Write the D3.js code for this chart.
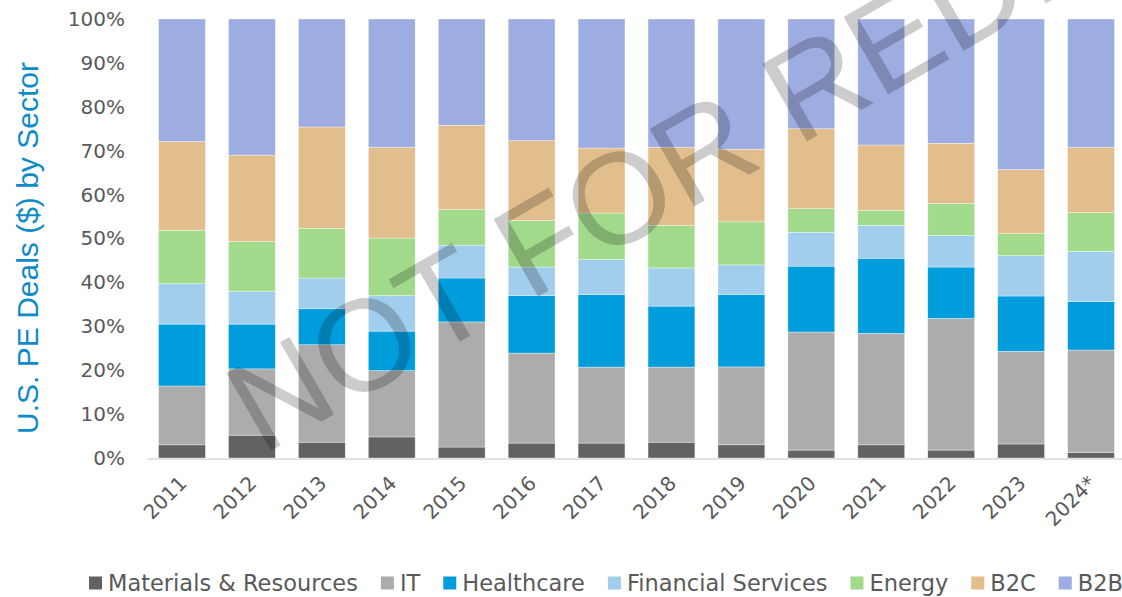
<!DOCTYPE html>
<html>
<head>
<meta charset="utf-8">
<script src="https://cdn.jsdelivr.net/npm/d3@7"></script>
<style>
  body { margin: 0; background: #fff; }
  svg { display: block; }
</style>
</head>
<body>
<div id="chart"></div>
<script>
// years on the x axis
const years = ["2011", "2012", "2013", "2014", "2015", "2016", "2017", "2018", "2019", "2020", "2021", "2022", "2023", "2024*"];

// share of deal value by sector (%)
const materials  = [3.0, 5.2, 3.6, 4.8, 2.5, 3.4, 3.4, 3.6, 3.0, 1.8, 3.0, 1.8, 3.2, 1.3];
const it         = [13.4, 15.1, 22.2, 15.1, 28.5, 20.5, 17.3, 17.1, 17.7, 26.9, 25.4, 30.0, 21.1, 23.3];
const healthcare = [14.1, 10.2, 8.2, 9.0, 10.0, 13.1, 16.5, 13.9, 16.5, 15.0, 17.1, 11.7, 12.6, 11.0];
const financial  = [9.2, 7.5, 7.0, 8.1, 7.5, 6.5, 8.0, 8.7, 6.7, 7.7, 7.5, 7.2, 9.2, 11.5];
const energy     = [12.2, 11.3, 11.3, 13.1, 8.1, 10.6, 10.6, 9.7, 9.8, 5.4, 3.4, 7.3, 5.0, 8.8];
const b2c        = [20.2, 19.7, 23.1, 20.7, 19.2, 18.2, 14.8, 17.8, 16.5, 18.2, 14.9, 13.7, 14.6, 14.9];
const b2b        = [27.9, 31.0, 24.6, 29.2, 24.2, 27.7, 29.4, 29.2, 29.6, 25.0, 28.7, 28.3, 34.3, 29.2];

const sectors = ["Materials & Resources", "IT", "Healthcare", "Financial Services", "Energy", "B2C", "B2B"];
const colors = ["#616263", "#ABACAB", "#009DDC", "#A2CEEE", "#A1DA8A", "#E2BE8C", "#9DACE1"];
const yTicks = [0, 0.1, 0.2, 0.3, 0.4, 0.5, 0.6, 0.7, 0.8, 0.9, 1.0];

const seriesValues = [materials, it, healthcare, financial, energy, b2c, b2b];
const table = years.map((y, i) => {
    const row = {year: y};
    sectors.forEach((s, k) => { row[s] = seriesValues[k][i]; });
    return row;
});

const width = 1122, height = 597;
const margin = {top: 19, right: -4, bottom: 139, left: 147};
const innerWidth = width - margin.left - margin.right;
const innerHeight = height - margin.top - margin.bottom;

const svg = d3.select("#chart")
    .append("svg")
    .attr("width", width)
    .attr("height", height)
    .style("font-family", "'DejaVu Sans', sans-serif");

const innerChart = svg.append("g")
    .attr("transform", `translate(${margin.left},${margin.top})`);

const xScale = d3.scaleBand()
    .domain(years)
    .range([0, innerWidth])
    .paddingInner(0.33)
    .paddingOuter(0.165);

const yScale = d3.scaleLinear()
    .domain([0, 1])
    .range([innerHeight, 0]);

const stacked = d3.stack()
    .keys(sectors)
    .offset(d3.stackOffsetExpand)(table);

// bars
innerChart.selectAll("g.series")
    .data(stacked)
    .join("g")
    .attr("class", "series")
    .attr("fill", (d, i) => colors[i])
    .selectAll("rect")
    .data(d => d)
    .join("rect")
    .attr("x", d => xScale(d.data.year))
    .attr("y", d => yScale(d[1]))
    .attr("width", xScale.bandwidth())
    .attr("height", d => yScale(d[0]) - yScale(d[1]))
    .attr("stroke", "#fff")
    .attr("stroke-width", 0.6)
    .attr("stroke-opacity", 0.6);

// y axis
const yAxis = d3.axisLeft(yScale)
    .tickValues(yTicks)
    .tickFormat(d3.format(".0%"))
    .tickSize(0)
    .tickPadding(22);

innerChart.append("g")
    .attr("class", "y-axis")
    .call(yAxis)
    .call(g => g.select(".domain").remove())
    .selectAll("text")
    .attr("fill", "#595959")
    .style("font-size", "20px")
    .style("font-family", "'DejaVu Sans', sans-serif");

// x axis
const xAxis = d3.axisBottom(xScale).tickSize(0);

innerChart.append("g")
    .attr("class", "x-axis")
    .attr("transform", `translate(0,${innerHeight + 0.5})`)
    .call(xAxis)
    .call(g => g.select(".domain").attr("stroke", "#D9D9D9").attr("stroke-width", 1.5))
    .selectAll("text")
    .attr("x", null)
    .attr("y", null)
    .attr("dy", "0.35em")
    .attr("text-anchor", "end")
    .attr("transform", "translate(1,21) rotate(-45)")
    .attr("fill", "#595959")
    .style("font-size", "20px")
    .style("font-family", "'DejaVu Sans', sans-serif");

// axis title
svg.append("text")
    .attr("transform", "translate(27,248) rotate(-90)")
    .attr("text-anchor", "middle")
    .attr("dominant-baseline", "central")
    .attr("fill", "#0E8BC8")
    .style("font-family", "'Liberation Sans', Arial, sans-serif")
    .style("font-size", "30px")
    .text("U.S. PE Deals ($) by Sector");

// legend
const legend = svg.append("g").attr("transform", "translate(89,583)");
let lx = 0;
sectors.forEach((s, i) => {
    const item = legend.append("g").attr("transform", `translate(${lx},0)`);
    item.append("rect")
        .attr("x", 0)
        .attr("y", -6.5)
        .attr("width", 13)
        .attr("height", 13)
        .attr("fill", colors[i]);
    const t = item.append("text")
        .attr("x", 19)
        .attr("dy", "0.35em")
        .attr("fill", "#595959")
        .style("font-size", "22.5px")
        .text(s);
    lx += 19 + t.node().getComputedTextLength() + 23;
});

// watermark
svg.append("text")
    .attr("transform", "translate(262,456) rotate(-30)")
    .attr("fill", "#000")
    .attr("fill-opacity", 0.2)
    .style("font-family", "'Liberation Sans', Arial, sans-serif")
    .style("font-size", "130px")
    .text("NOT FOR REDISTRIBUTION");
</script>
</body>
</html>
